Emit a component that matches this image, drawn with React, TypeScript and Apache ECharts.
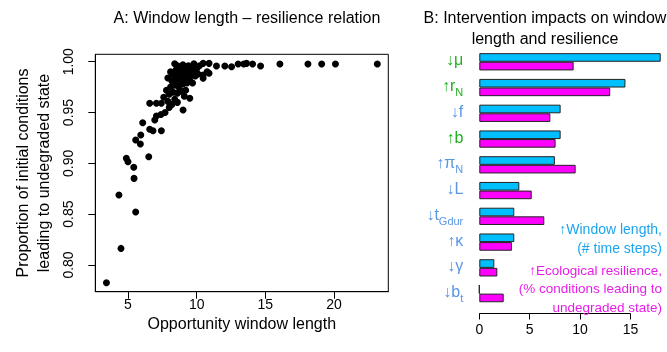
import React, { useEffect, useRef } from 'react';
import * as echarts from 'echarts';

// Panel A: opportunity window length vs proportion of initial conditions leading to undegraded state
const windowLength = [
  3.43, 4.49, 5.56, 4.34, 5.44, 5.42, 4.88, 5.0, 6.51, 5.56, 5.9, 5.93, 6.07, 6.58, 6.82, 7.43, 6.95, 7.07,
  6.58, 7.07, 7.43, 9.01, 9.5, 10.47, 10.47, 10.9, 11.44, 12.05, 12.54, 13.02, 13.43, 13.63, 14.07, 14.65,
  16.06, 18.1, 19.1, 20.1, 23.15, 10.76, 10.9, 10.47,
  7.6, 7.8, 7.9, 8.0, 8.1, 8.2, 8.2, 8.3, 8.3, 8.4, 8.4, 8.5, 8.5, 8.6, 8.6, 8.7, 8.7, 8.8, 8.8, 8.9, 8.9,
  9.0, 9.0, 9.0, 9.1, 9.1, 9.2, 9.2, 9.3, 9.3, 9.4, 9.4, 9.5, 9.5, 9.6, 9.6, 9.7, 9.8, 9.9, 10.0, 10.1,
  8.0, 7.7, 7.4, 8.6, 9.2, 8.1, 7.9, 8.4, 9.8, 10.2,
];
const resilience = [
  0.7825, 0.8163, 0.8521, 0.8688, 0.8852, 0.8961, 0.9049, 0.9016, 0.9065, 0.9229, 0.919, 0.9279, 0.94, 0.9335,
  0.9321, 0.9321, 0.9426, 0.9466, 0.9591, 0.9591, 0.9591, 0.9525, 0.964, 0.9869, 0.9984, 0.9984, 0.9958,
  0.9958, 0.9951, 0.9977, 0.9977, 0.9984, 0.9977, 0.9958, 0.9977, 0.9977, 0.9977, 0.9977, 0.9977, 0.9902,
  0.9886, 0.9837,
  0.965, 0.972, 0.961, 0.968, 0.975, 0.958, 0.981, 0.97, 0.987, 0.963, 0.977, 0.992, 0.983, 0.969, 0.996,
  0.975, 0.988, 0.98, 0.993, 0.971, 0.985, 0.99, 0.978, 0.997, 0.983, 0.966, 0.988, 0.994, 0.979, 0.991,
  0.985, 0.996, 0.982, 0.99, 0.987, 0.994, 0.979, 0.991, 0.986, 0.993, 0.988,
  0.955, 0.95, 0.948, 0.96, 0.972, 0.99, 0.984, 0.998, 0.998, 0.996,
];
const xTicksA = [5, 10, 15, 20];
const yTicksA = [0.8, 0.85, 0.9, 0.95, 1.0];

// Panel B: intervention impacts
const interventionMain = ['↓μ', '↑r', '↓f', '↑b', '↑π', '↓L', '↓t', '↑κ', '↓γ', '↓b'];
const interventionSub = ['', 'N', '', '', 'N', '', 'Gdur', '', '', 't'];
const interventionColor = ['g', 'g', 'b', 'g', 'b', 'b', 'b', 'b', 'b', 'b'];
const windowImpact = [18.0, 14.5, 8.07, 8.07, 7.5, 3.97, 3.47, 3.47, 1.49, 0];
const resilienceImpact = [9.36, 12.99, 7.05, 7.57, 9.56, 5.2, 6.45, 3.24, 1.79, 2.42];
const xTicksB = [0, 5, 10, 15];

const FONT = 'Liberation Sans, Arial, sans-serif';
const GREEN = '#22b022';
const LBLUE = '#5a96e6';
const BARBLUE = '#00bfff';
const BARMAG = '#ff00ff';
const TXTBLUE = '#1aa6ee';
const TXTMAG = '#e81ee8';

export default function App() {
  const ref = useRef<HTMLDivElement>(null);
  useEffect(() => {
    document.body.style.margin = '0';
    const chart = echarts.init(ref.current!, null, { renderer: 'svg' });
    const cats = interventionMain.map((m, i) => m + interventionSub[i]);
    const option: any = {
      animation: false,
      textStyle: { fontFamily: FONT },
      title: [
        {
          text: 'A: Window length – resilience relation',
          left: 242,
          top: 4,
          textAlign: 'center',
          textStyle: { fontSize: 16, fontWeight: 'normal', color: '#000', fontFamily: FONT },
        },
        {
          text: 'B: Intervention impacts on window\nlength and resilience',
          left: 540,
          top: 2,
          textAlign: 'center',
          textStyle: { fontSize: 16, fontWeight: 'normal', color: '#000', fontFamily: FONT, lineHeight: 21 },
        },
      ],
      grid: [
        { left: 95.3, top: 54.3, width: 293, height: 237.4, show: true, borderColor: '#000', borderWidth: 1, backgroundColor: 'transparent' },
        { left: 479.3, top: 48.9, width: 181.7, height: 257.6 },
      ],
      xAxis: [
        {
          type: 'value', gridIndex: 0, min: 2.62, max: 23.95,
          axisLine: { show: true, lineStyle: { color: '#000' } },
          splitLine: { show: false },
          axisTick: { show: true, customValues: xTicksA, length: 7, lineStyle: { color: '#000' } },
          axisLabel: { customValues: xTicksA, fontSize: 14, color: '#000', margin: 5, fontFamily: FONT },
          name: 'Opportunity window length', nameLocation: 'middle', nameGap: 19,
          nameTextStyle: { fontSize: 16, color: '#000', fontFamily: FONT },
        },
        {
          type: 'value', gridIndex: 1, min: 0, max: 18.03, offset: 7,
          axisLine: { show: false },
          splitLine: { show: false },
          axisTick: { show: true, customValues: xTicksB, length: 6, lineStyle: { color: '#000' } },
          axisLabel: { customValues: xTicksB, fontSize: 14, color: '#000', margin: 8, fontFamily: FONT },
        },
      ],
      yAxis: [
        {
          type: 'value', gridIndex: 0, min: 0.7737, max: 1.0073,
          axisLine: { show: true, lineStyle: { color: '#000' } },
          splitLine: { show: false },
          axisTick: { show: true, customValues: yTicksA, length: 7, lineStyle: { color: '#000' } },
          axisLabel: {
            customValues: yTicksA, fontSize: 14, color: '#000', rotate: 90, margin: 20, fontFamily: FONT,
            formatter: (v: number) => v.toFixed(2),
          },
        },
        {
          type: 'category', gridIndex: 1, data: cats, inverse: true,
          axisLine: { show: false }, axisTick: { show: false }, splitLine: { show: false },
          axisLabel: {
            margin: 16,
            formatter: (_v: string, i: number) => {
              const c = interventionColor[i];
              const sub = interventionSub[i];
              return `{${c}|${interventionMain[i]}}` + (sub ? `{${c}s|${sub}}` : '');
            },
            rich: {
              g: { color: GREEN, fontSize: 16, fontFamily: FONT, lineHeight: 20, verticalAlign: 'top' },
              gs: { color: GREEN, fontSize: 11, fontFamily: FONT, lineHeight: 11, verticalAlign: 'bottom' },
              b: { color: LBLUE, fontSize: 16, fontFamily: FONT, lineHeight: 20, verticalAlign: 'top' },
              bs: { color: LBLUE, fontSize: 11, fontFamily: FONT, lineHeight: 11, verticalAlign: 'bottom' },
            },
          },
        },
      ],
      series: [
        {
          type: 'scatter', xAxisIndex: 0, yAxisIndex: 0, symbolSize: 7,
          itemStyle: { color: '#000', opacity: 1 },
          data: windowLength.map((x, i) => [x, resilience[i]]),
        },
        {
          type: 'bar', xAxisIndex: 1, yAxisIndex: 1, data: windowImpact,
          barGap: '0%', barCategoryGap: '33%',
          itemStyle: { color: BARBLUE, borderColor: '#222', borderWidth: 1 },
        },
        {
          type: 'bar', xAxisIndex: 1, yAxisIndex: 1, data: resilienceImpact,
          barGap: '0%', barCategoryGap: '33%',
          itemStyle: { color: BARMAG, borderColor: '#222', borderWidth: 1 },
        },
      ],
    };
    chart.setOption(option);
    const x0 = chart.convertToPixel({ xAxisIndex: 1 }, xTicksB[0]) as number;
    const x1 = chart.convertToPixel({ xAxisIndex: 1 }, xTicksB[xTicksB.length - 1]) as number;
    const axisY = 48.9 + 257.6 + 7;
    chart.setOption({
      graphic: [
        {
          type: 'text', x: 33, y: 173, rotation: Math.PI / 2,
          style: {
            text: 'Proportion of initial conditions\nleading to undegraded state',
            fill: '#000', font: `16px ${FONT}`, align: 'center', verticalAlign: 'middle', lineHeight: 21,
          },
        },
        {
          type: 'line', shape: { x1: x0, y1: axisY, x2: x1, y2: axisY },
          style: { stroke: '#000', lineWidth: 1 },
        },
        {
          type: 'text', x: 662, y: 219.5,
          style: {
            text: '↑Window length,\n(# time steps)', fill: TXTBLUE, font: `14px ${FONT}`,
            align: 'right', verticalAlign: 'top', lineHeight: 19,
          },
        },
        {
          type: 'text', x: 662, y: 261,
          style: {
            text: '↑Ecological resilience,\n(% conditions leading to\nundegraded state)', fill: TXTMAG,
            font: `13.5px ${FONT}`, align: 'right', verticalAlign: 'top', lineHeight: 18.5,
          },
        },
      ],
    });
    return () => chart.dispose();
  }, []);
  return <div ref={ref} style={{ position: 'fixed', left: 0, top: 0, width: 667, height: 352 }} />;
}
